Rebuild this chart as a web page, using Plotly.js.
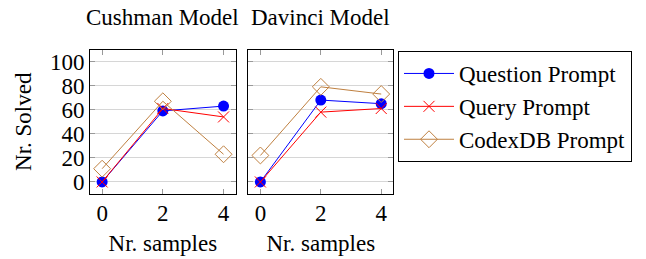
<!DOCTYPE html>
<html><head><meta charset="utf-8">
<script src="https://cdn.plot.ly/plotly-3.0.1.min.js"></script>
<style>body{margin:0;padding:0;background:#fff}</style>
</head><body>
<div id="chart" style="width:646px;height:259px"></div>
<script>
const samples = [0, 2, 4];
const seriesNames = ["Question Prompt", "Query Prompt", "CodexDB Prompt"];
const cushmanQuestion = [0, 59, 63];
const cushmanQuery = [0, 61, 54];
const cushmanCodexDB = [11, 67, 23];
const davinciQuestion = [0, 68, 65];
const davinciQuery = [0, 58, 61];
const davinciCodexDB = [22, 79, 73];
const yTicks = [0, 20, 40, 60, 80, 100];
const panelTitles = ["Cushman Model", "Davinci Model"];

const FONT = "Liberation Serif, Times New Roman, serif";
const FS = 23;
const styles = [
  {color: "#0000ff", marker: {symbol: "circle", size: 11, color: "#0000ff"}},
  {color: "#ff0000", marker: {symbol: "x-thin-open", size: 11, color: "#ff0000", line: {color: "#ff0000", width: 1}}},
  {color: "#bf8040", marker: {symbol: "diamond-open", size: 13, color: "#bf8040", line: {color: "#bf8040", width: 1}}}
];
const panels = [
  {ax: ["x", "y"], data: [cushmanQuestion, cushmanQuery, cushmanCodexDB], legend: true},
  {ax: ["x2", "y2"], data: [davinciQuestion, davinciQuery, davinciCodexDB], legend: false}
];
const traces = [];
panels.forEach(p => {
  p.data.forEach((vals, i) => {
    traces.push({
      x: samples, y: vals, xaxis: p.ax[0], yaxis: p.ax[1],
      type: "scatter", mode: "lines+markers", name: seriesNames[i],
      showlegend: p.legend, legendgroup: seriesNames[i],
      line: {color: styles[i].color, width: 1},
      marker: styles[i].marker
    });
  });
});

const W = 646, H = 259;
const yDom = [1 - 194/H, 1 - 49.5/H];
const txt = {family: FONT, size: FS, color: "#000"};
const commonX = {
  range: [-0.4, 4.4], tickvals: samples, ticktext: samples.map(String),
  showline: true, linecolor: "#000", linewidth: 1, mirror: "allticks",
  ticks: "inside", ticklen: 5, tickcolor: "#999", tickwidth: 1,
  showgrid: false, zeroline: false,
  tickfont: txt, ticklabelstandoff: -2,
  title: {text: "Nr. samples", font: txt, standoff: 10}
};
const commonY = {
  range: [-10, 110], tickvals: yTicks, ticktext: yTicks.map(String),
  showline: true, linecolor: "#000", linewidth: 1, mirror: "allticks",
  ticks: "inside", ticklen: 5, tickcolor: "#999", tickwidth: 1,
  showgrid: true, gridcolor: "#d6d6d6", gridwidth: 1, zeroline: false,
  tickfont: txt,
  domain: yDom
};
const layout = {
  width: W, height: H,
  margin: {l: 0, r: 0, t: 0, b: 0},
  paper_bgcolor: "#fff", plot_bgcolor: "#fff",
  showlegend: true,
  font: txt,
  xaxis: Object.assign({}, commonX, {domain: [90/W, 235.7/W], anchor: "y"}),
  xaxis2: Object.assign({}, commonX, {domain: [248.3/W, 393.3/W], anchor: "y2"}),
  yaxis: Object.assign({}, commonY, {anchor: "x",
    title: {text: "Nr. Solved", font: txt, standoff: 11}}),
  yaxis2: Object.assign({}, commonY, {anchor: "x2", showticklabels: false}),
  legend: {
    x: 398/W, y: 1 - 51/H, xanchor: "left", yanchor: "top",
    bordercolor: "#000", borderwidth: 1, bgcolor: "#fff",
    font: txt, tracegroupgap: 0, traceorder: "normal",
    itemwidth: 50
  },
  annotations: [
    {text: panelTitles[0], x: 162.8/W, y: 1 - 18/H, xref: "paper", yref: "paper",
     xanchor: "center", yanchor: "middle", showarrow: false, font: txt},
    {text: panelTitles[1], x: 320.8/W, y: 1 - 18/H, xref: "paper", yref: "paper",
     xanchor: "center", yanchor: "middle", showarrow: false, font: txt}
  ]
};
Plotly.newPlot("chart", traces, layout, {displayModeBar: false, staticPlot: true});
</script>
</body></html>
